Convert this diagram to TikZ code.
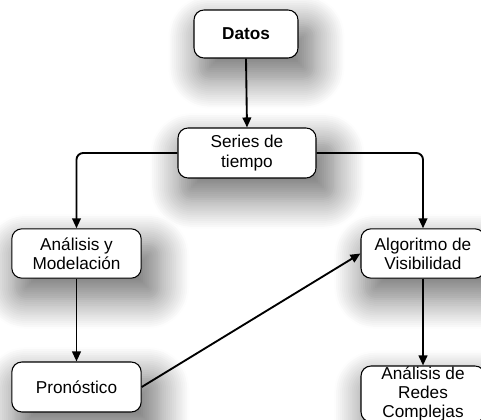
\documentclass[tikz,border=0pt]{standalone}
\usepackage{fontspec}
\setmainfont{Liberation Sans}
\usetikzlibrary{arrows.meta,shadows.blur}

\begin{document}
\begin{tikzpicture}[x=0.75pt,y=-0.75pt,
        box/.style={rectangle,rounded corners=7.5pt,draw=black,fill=white,thick,
            align=center,inner sep=0pt,
            font=\fontsize{12.9pt}{14.4pt}\selectfont,
            blur shadow={shadow xshift=7pt,shadow yshift=-12pt,shadow scale=1.12,shadow blur radius=20pt,shadow blur steps=16,shadow opacity=55}},
        flow/.style={-{Triangle[length=7.5pt,width=6.5pt]},line width=1.4pt,rounded corners=5pt}]
        \useasboundingbox (0,0) rectangle (481,420);
        \node[box,minimum width=78pt,minimum height=36pt] (datos) at (246,34) {\textbf{Datos}};
        \node[box,minimum width=103.5pt,minimum height=37.5pt] (series) at (247,153) {Series de\\tiempo};
        \node[box,minimum width=97pt,minimum height=37pt] (analisis) at (76.5,253.5) {Análisis y\\Modelación};
        \node[box,minimum width=93pt,minimum height=37pt] (algoritmo) at (423,253.5) {Algoritmo de\\Visibilidad};
        \node[box,minimum width=97pt,minimum height=37.5pt] (pronostico) at (76.5,387) {Pronóstico};
        \node[box,minimum width=93pt,minimum height=42pt] (redes) at (423,394) {Análisis de\\Redes\\Complejas};

        \draw [flow] (datos.south) -- (series.north);
        \draw [flow] (series.west) -| (analisis.north);
        \draw [flow] (series.east) -| (algoritmo.north);
        \draw [flow] (analisis.south) -- (pronostico.north);
        \draw [flow] (pronostico.east) -- (algoritmo.west);
        \draw [flow] (algoritmo.south) -- (redes.north);
    \end{tikzpicture}
\end{document}
